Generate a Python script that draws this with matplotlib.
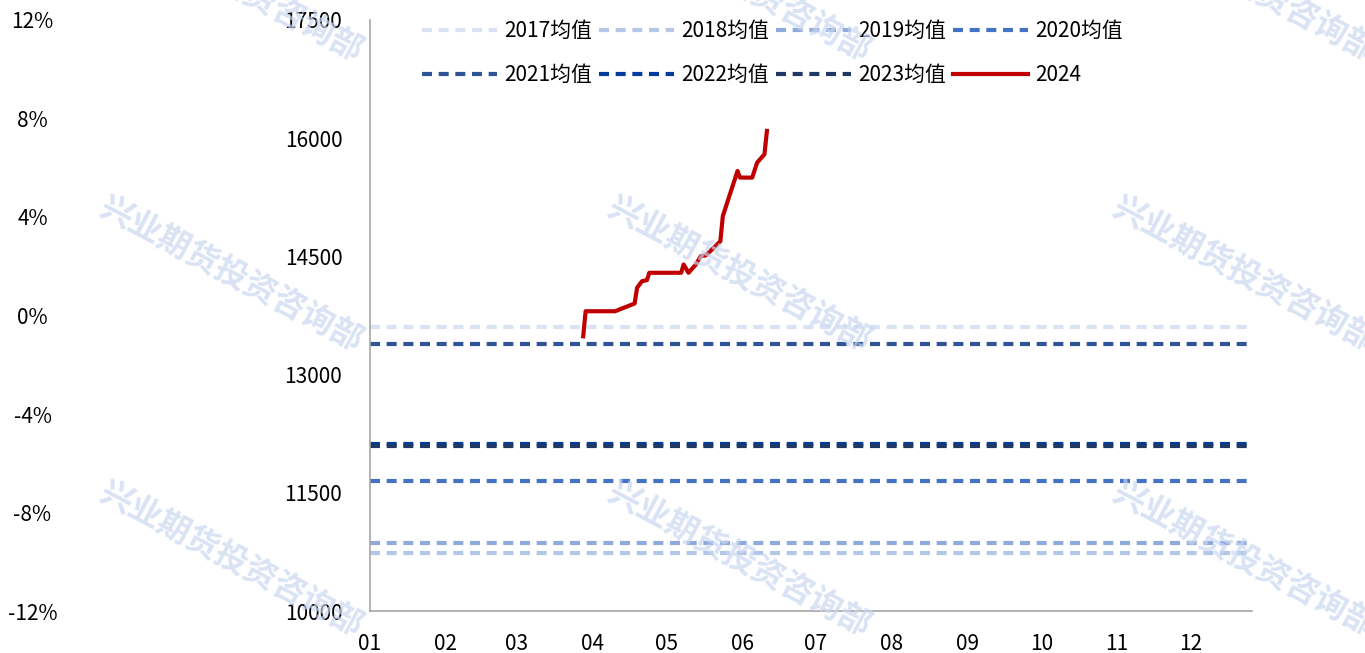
import pandas as pd
import matplotlib
matplotlib.use("Agg")
import matplotlib.pyplot as plt

plt.rcParams['font.family'] = ['Noto Sans CJK SC', 'DejaVu Sans']

# 历年均值
years = ['2017', '2018', '2019', '2020', '2021', '2022', '2023']
year_means = [13610, 10737, 10864, 11652, 13393, 12122, 12097]
year_colors = ['#DAE3F3', '#B4C7E7', '#8FAADC', '#4472C4', '#2F5597', '#003C9E', '#1F3864']

# 2024 走势
dates_2024 = ['2024-03-28', '2024-03-29', '2024-04-10', '2024-04-18', '2024-04-19',
              '2024-04-21', '2024-04-23', '2024-04-24', '2024-05-07', '2024-05-08',
              '2024-05-10', '2024-05-13', '2024-05-15', '2024-05-17', '2024-05-21',
              '2024-05-23', '2024-05-24', '2024-05-30', '2024-05-31', '2024-06-05',
              '2024-06-07', '2024-06-10', '2024-06-11']
prices_2024 = [13486, 13804, 13804, 13902, 14101, 14185, 14198, 14292, 14292, 14397,
               14292, 14397, 14503, 14512, 14630, 14694, 15011, 15584, 15500, 15500,
               15690, 15796, 16092]

pct_ticks = [-12, -8, -4, 0, 4, 8, 12]
month_labels = ['01', '02', '03', '04', '05', '06', '07', '08', '09', '10', '11', '12']

FS = 15

fig = plt.figure(figsize=(13.65, 6.53), dpi=100)
ax = fig.add_axes([0.2711, 0.0643, 0.6461, 0.9051])

x0 = pd.Timestamp('2024-01-01')
x1 = pd.Timestamp('2024-12-26')

for yr, val, col in zip(years, year_means, year_colors):
    ax.plot([x0, x1], [val, val], color=col, lw=3, ls=(0, (2.4, 1.6)),
            label=f'{yr}均值')

ax.plot(pd.to_datetime(dates_2024), prices_2024, color='#C00000', lw=3,
        solid_joinstyle='round', label='2024')

ax.set_xlim(x0, x1)
ax.set_ylim(10000, 17500)
ax.set_yticks(range(10000, 17501, 1500))
ax.set_xticks([pd.Timestamp(f'2024-{m}-01') for m in month_labels])
ax.set_xticklabels(month_labels)
ax.tick_params(axis='both', length=0, labelsize=FS)
ax.tick_params(axis='x', pad=16)
ax.tick_params(axis='y', pad=20)
for s in ['top', 'right']:
    ax.spines[s].set_visible(False)
for s in ['left', 'bottom']:
    ax.spines[s].set_color('#A6A6A6')
    ax.spines[s].set_linewidth(1.2)

# 左侧百分比轴
ax2 = ax.twinx()
ax2.set_ylim(-12, 12)
ax2.set_yticks(pct_ticks)
ax2.set_yticklabels([f'{v}%' for v in pct_ticks])
ax2.yaxis.tick_left()
ax2.tick_params(axis='y', length=0, labelsize=FS, pad=243)
for lab in ax2.get_yticklabels():
    lab.set_horizontalalignment('center')
for s in ax2.spines.values():
    s.set_visible(False)

# 图例按行排列
handles, labels = ax.get_legend_handles_labels()
order = [0, 4, 1, 5, 2, 6, 3, 7]
ax.legend([handles[i] for i in order], [labels[i] for i in order],
          ncol=4, loc='upper left', bbox_to_anchor=(0.038, 1.031),
          frameon=False, fontsize=FS, handlelength=3.6, handletextpad=0.35,
          columnspacing=0.32, labelspacing=1.04)

# 水印
for cx in [232, 740, 1245]:
    for cy in [-15, 275, 560]:
        fig.text(cx / 1365, 1 - cy / 653, '兴业期货投资咨询部', fontsize=23.5,
                 fontweight='bold', color='#C9D7F0', alpha=0.7, rotation=-28,
                 ha='center', va='center', zorder=10)

fig.savefig('out.png', dpi=100)
